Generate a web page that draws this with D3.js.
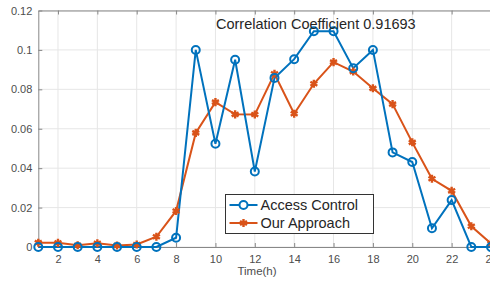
<!DOCTYPE html>
<html>
<head>
<meta charset="utf-8">
<script src="https://cdn.jsdelivr.net/npm/d3@7"></script>
<style>
  body { margin: 0; background: #fff; overflow: hidden; }
  svg { font-family: "Liberation Sans", Arial, sans-serif; }
</style>
</head>
<body>
<div id="vis"></div>
<script>
// chart data
const hours = d3.range(1, 25);
const accessControl = [0, 0, 0, 0, 0, 0, 0, 0.0047, 0.1, 0.0524, 0.095, 0.0383,
                       0.0858, 0.0953, 0.1095, 0.1095, 0.0907, 0.1, 0.048, 0.0431,
                       0.0095, 0.0238, 0, 0];
const ourApproach = [0.0022, 0.0021, 0.0009, 0.0019, 0.0008, 0.0013, 0.0052, 0.0183,
                     0.0579, 0.0735, 0.0673, 0.0672, 0.0879, 0.0676, 0.0828, 0.0938,
                     0.089, 0.0805, 0.0725, 0.0531, 0.0346, 0.0285, 0.0105, 0.0018];
const xTicks = [2, 4, 6, 8, 10, 12, 14, 16, 18, 20, 22, 24];
const yTicks = [0, 0.02, 0.04, 0.06, 0.08, 0.1, 0.12];
const seriesNames = ['Access Control', 'Our Approach'];
const title = 'Correlation Coefficient 0.91693';

const WIDTH = 490;
const HEIGHT = 282;
const MARGINS = {left: 38.3, right: -1, top: 10.5, bottom: 35};

const BLUE = '#0072BD';
const ORANGE = '#D95319';

const FRAME = d3.select('#vis')
                .append('svg')
                  .attr('width', WIDTH)
                  .attr('height', HEIGHT);

const X_SCALE = d3.scaleLinear()
    .domain([1, 24])
    .range([MARGINS.left, WIDTH - MARGINS.right]);

const Y_SCALE = d3.scaleLinear()
    .domain([0, 0.12])
    .range([HEIGHT - MARGINS.bottom, MARGINS.top]);

const x0 = X_SCALE.range()[0], x1 = X_SCALE.range()[1];
const y0 = Y_SCALE.range()[0], y1 = Y_SCALE.range()[1];

// grid
FRAME.append('g')
    .selectAll('line')
    .data(xTicks)
    .enter()
    .append('line')
      .attr('x1', d => X_SCALE(d)).attr('x2', d => X_SCALE(d))
      .attr('y1', y0).attr('y2', y1)
      .attr('stroke', '#e6e6e6').attr('stroke-width', 1);

FRAME.append('g')
    .selectAll('line')
    .data(yTicks)
    .enter()
    .append('line')
      .attr('x1', x0).attr('x2', x1)
      .attr('y1', d => Y_SCALE(d)).attr('y2', d => Y_SCALE(d))
      .attr('stroke', '#e6e6e6').attr('stroke-width', 1);

// axes (ticks point inward)
const xAxis = FRAME.append('g')
    .attr('transform', 'translate(0,' + y0 + ')')
    .call(d3.axisBottom(X_SCALE).tickValues(xTicks).tickSizeInner(-4).tickSizeOuter(0).tickPadding(8));

const xTop = FRAME.append('g')
    .attr('transform', 'translate(0,' + y1 + ')')
    .call(d3.axisTop(X_SCALE).tickValues(xTicks).tickSizeInner(-4).tickSizeOuter(0).tickFormat(''));

const yAxis = FRAME.append('g')
    .attr('transform', 'translate(' + x0 + ',0)')
    .call(d3.axisLeft(Y_SCALE).tickValues(yTicks).tickSizeInner(-4).tickSizeOuter(0).tickPadding(6)
        .tickFormat(d => d === 0 ? '0' : String(+d.toFixed(2))));

[xAxis, xTop, yAxis].forEach(g => {
    g.selectAll('path').attr('stroke', '#888').attr('stroke-width', 1);
    g.selectAll('line').attr('stroke', '#888');
    g.selectAll('text').attr('fill', '#4d4d4d').attr('font-size', '11px');
});

// x label
FRAME.append('text')
    .attr('x', 257)
    .attr('y', 275)
    .attr('text-anchor', 'middle')
    .attr('font-size', '11.5px')
    .attr('fill', '#4d4d4d')
    .text('Time(h)');

// lines
const line = d3.line()
    .x((d, i) => X_SCALE(hours[i]))
    .y(d => Y_SCALE(d));

FRAME.append('path')
    .datum(ourApproach)
    .attr('d', line)
    .attr('fill', 'none')
    .attr('stroke', ORANGE)
    .attr('stroke-width', 2);

FRAME.append('path')
    .datum(accessControl)
    .attr('d', line)
    .attr('fill', 'none')
    .attr('stroke', BLUE)
    .attr('stroke-width', 2);

// markers
const star = d3.symbol().type(d3.symbolAsterisk).size(45);

FRAME.selectAll('.orangePt')
    .data(ourApproach)
    .enter()
    .append('path')
      .attr('class', 'orangePt')
      .attr('d', star)
      .attr('transform', (d, i) => 'translate(' + X_SCALE(hours[i]) + ',' + Y_SCALE(d) + ')')
      .attr('fill', ORANGE)
      .attr('stroke', ORANGE)
      .attr('stroke-width', 2.4);

FRAME.selectAll('.bluePt')
    .data(accessControl)
    .enter()
    .append('circle')
      .attr('class', 'bluePt')
      .attr('cx', (d, i) => X_SCALE(hours[i]))
      .attr('cy', d => Y_SCALE(d))
      .attr('r', 4)
      .attr('fill', 'none')
      .attr('stroke', BLUE)
      .attr('stroke-width', 2);

// title
FRAME.append('text')
    .attr('x', 216)
    .attr('y', 29)
    .attr('font-size', '14.5px')
    .attr('fill', '#262626')
    .text(title);

// legend
const LEG = FRAME.append('g').attr('transform', 'translate(225.5,194.5)');
LEG.append('rect')
    .attr('width', 148)
    .attr('height', 39)
    .attr('fill', '#fff')
    .attr('stroke', '#333')
    .attr('stroke-width', 1);

const legColors = [BLUE, ORANGE];
seriesNames.forEach((name, i) => {
    const yy = 10.5 + i * 18;
    LEG.append('line')
        .attr('x1', 4).attr('x2', 32)
        .attr('y1', yy).attr('y2', yy)
        .attr('stroke', legColors[i]).attr('stroke-width', 2);
    if (i === 0) {
        LEG.append('circle')
            .attr('cx', 18).attr('cy', yy).attr('r', 4)
            .attr('fill', '#fff').attr('stroke', BLUE).attr('stroke-width', 2);
    } else {
        LEG.append('path')
            .attr('d', star)
            .attr('transform', 'translate(18,' + yy + ')')
            .attr('fill', ORANGE).attr('stroke', ORANGE).attr('stroke-width', 2.4);
    }
    LEG.append('text')
        .attr('x', 35)
        .attr('y', yy + 5)
        .attr('font-size', '14.5px')
        .attr('fill', '#262626')
        .text(name);
});
</script>
</body>
</html>
